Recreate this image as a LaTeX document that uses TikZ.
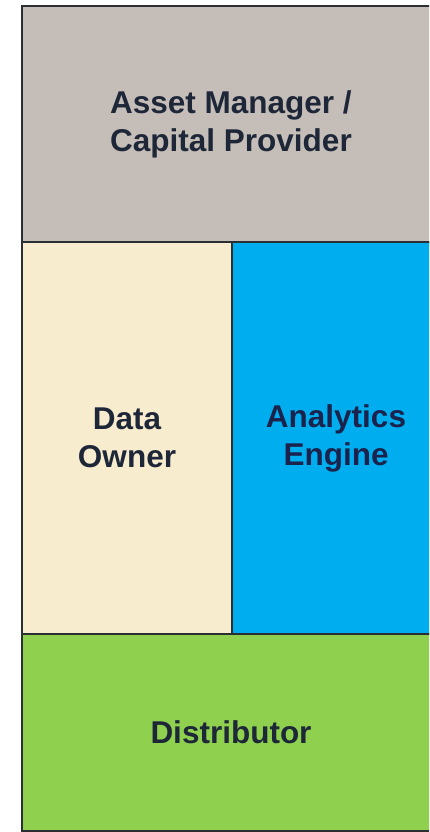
\documentclass[tikz,border=0pt]{standalone}
\usepackage{fontspec}
\setmainfont{Liberation Sans}
\begin{document}
\definecolor{mgrgray}{HTML}{C5BDB8}
\definecolor{ownerbeige}{HTML}{F8ECCF}
\definecolor{engineblue}{HTML}{00AEEF}
\definecolor{distgreen}{HTML}{8FD14F}
\definecolor{edge}{HTML}{2B2F33}
\definecolor{label}{HTML}{1E2738}
\begin{tikzpicture}[x=1pt,y=1pt,
  block/.style={draw=edge, line width=1.8pt, rectangle, inner sep=0pt,
    align=center, text=label,
    font=\fontsize{31.5pt}{38pt}\selectfont\bfseries}]
  \useasboundingbox (0,0) rectangle (429,-832);
  \fill[white] (0,0) rectangle (429,-832);
  \begin{scope}
    \clip (0,0) rectangle (429,-832);
    \node[block, fill=mgrgray, minimum width=418pt, minimum height=237pt]
      (manager) at (231,-124.5) {Asset Manager /\\Capital Provider};
    \node[block, fill=ownerbeige, minimum width=210pt, minimum height=392pt]
      (owner) at (127,-438) {Data\\Owner};
    \node[block, fill=engineblue, minimum width=208pt, minimum height=392pt, text=label!90!blue]
      (engine) at (336,-438) {Analytics\\Engine};
    \node[block, fill=distgreen, minimum width=418pt, minimum height=197pt]
      (distributor) at (231,-732.5) {Distributor};
  \end{scope}
\end{tikzpicture}
\end{document}
